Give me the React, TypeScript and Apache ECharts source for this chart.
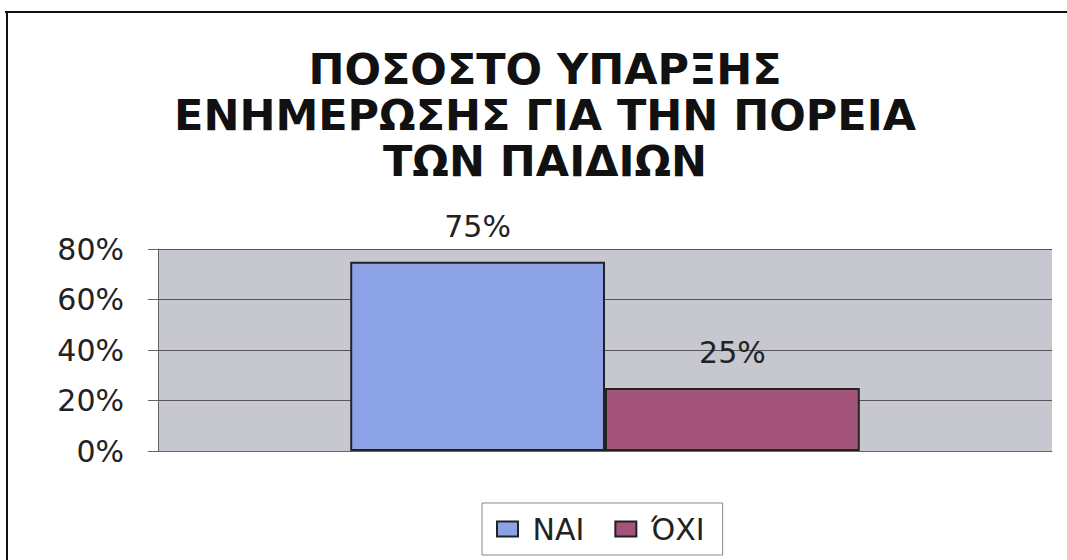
import React, { useEffect, useRef } from "react";
import * as echarts from "echarts";

const categories = ["ΠΟΣΟΣΤΟ"];
const seriesNames = ["ΝΑΙ", "ΌΧΙ"];
const valuesNai = [75];
const valuesOxi = [25];
const yTicks = [0, 20, 40, 60, 80];
const titleText = "ΠΟΣΟΣΤΟ ΥΠΑΡΞΗΣ\nΕΝΗΜΕΡΩΣΗΣ ΓΙΑ ΤΗΝ ΠΟΡΕΙΑ\nΤΩΝ ΠΑΙΔΙΩΝ";

export default function App() {
  const ref = useRef<HTMLDivElement>(null);
  useEffect(() => {
    if (!ref.current) return;
    const chart = echarts.init(ref.current, undefined, { renderer: "svg" });
    const labelStyle = {
      show: true,
      position: "top" as const,
      distance: 20,
      formatter: "{c}%",
      color: "#222",
      fontSize: 30,
      fontFamily: "DejaVu Sans",
    };
    chart.setOption({
      animation: false,
      backgroundColor: "#ffffff",
      title: {
        text: titleText,
        left: 540,
        top: 41,
        textAlign: "center",
        textStyle: {
          fontFamily: "DejaVu Sans",
          fontWeight: "bold",
          fontSize: 43,
          lineHeight: 46,
          color: "#111",
        },
      },
      grid: { left: 158, right: 15, top: 249, bottom: 109, backgroundColor: "#c7c7cf", show: true, borderWidth: 0 },
      legend: {
        data: seriesNames,
        left: 482,
        top: 503,
        padding: [11, 18, 11, 14],
        borderColor: "#888",
        borderWidth: 1,
        itemWidth: 21,
        itemHeight: 15,
        itemGap: 30,
        icon: "rect",
        formatter: (name: string) => " " + name,
        itemStyle: { borderColor: "#222", borderWidth: 2 },
        textStyle: { fontSize: 30, fontFamily: "DejaVu Sans", color: "#222" },
      },
      xAxis: {
        type: "category",
        data: categories,
        axisLabel: { show: false },
        axisTick: { show: false },
        axisLine: { show: true, lineStyle: { color: "#666", width: 1 } },
      },
      yAxis: {
        type: "value",
        min: yTicks[0],
        max: yTicks[yTicks.length - 1],
        interval: 20,
        axisLabel: { formatter: "{value}%", fontSize: 30, fontFamily: "DejaVu Sans", color: "#222", margin: 34 },
        axisLine: { show: true, lineStyle: { color: "#666", width: 1 } },
        axisTick: { show: true, length: 10, lineStyle: { color: "#666" } },
        splitLine: { show: true, lineStyle: { color: "#555", width: 1 } },
      },
      series: [
        {
          name: seriesNames[0],
          type: "bar",
          data: valuesNai,
          barGap: "0%",
          barCategoryGap: "43%",
          itemStyle: { color: "#8ca2e6", borderColor: "#222", borderWidth: 2 },
          label: labelStyle,
        },
        {
          name: seriesNames[1],
          type: "bar",
          data: valuesOxi,
          barGap: "0%",
          barCategoryGap: "43%",
          itemStyle: { color: "#a4547a", borderColor: "#222", borderWidth: 2 },
          label: labelStyle,
        },
      ],
      graphic: [
        { type: "line", shape: { x1: 5, y1: 12, x2: 1067, y2: 12 }, style: { stroke: "#111", lineWidth: 2 } },
        { type: "line", shape: { x1: 7, y1: 12, x2: 7, y2: 560 }, style: { stroke: "#111", lineWidth: 2 } },
      ],
    });
    return () => chart.dispose();
  }, []);
  return <div ref={ref} style={{ position: "fixed", left: 0, top: 0, width: 1067, height: 560 }} />;
}
